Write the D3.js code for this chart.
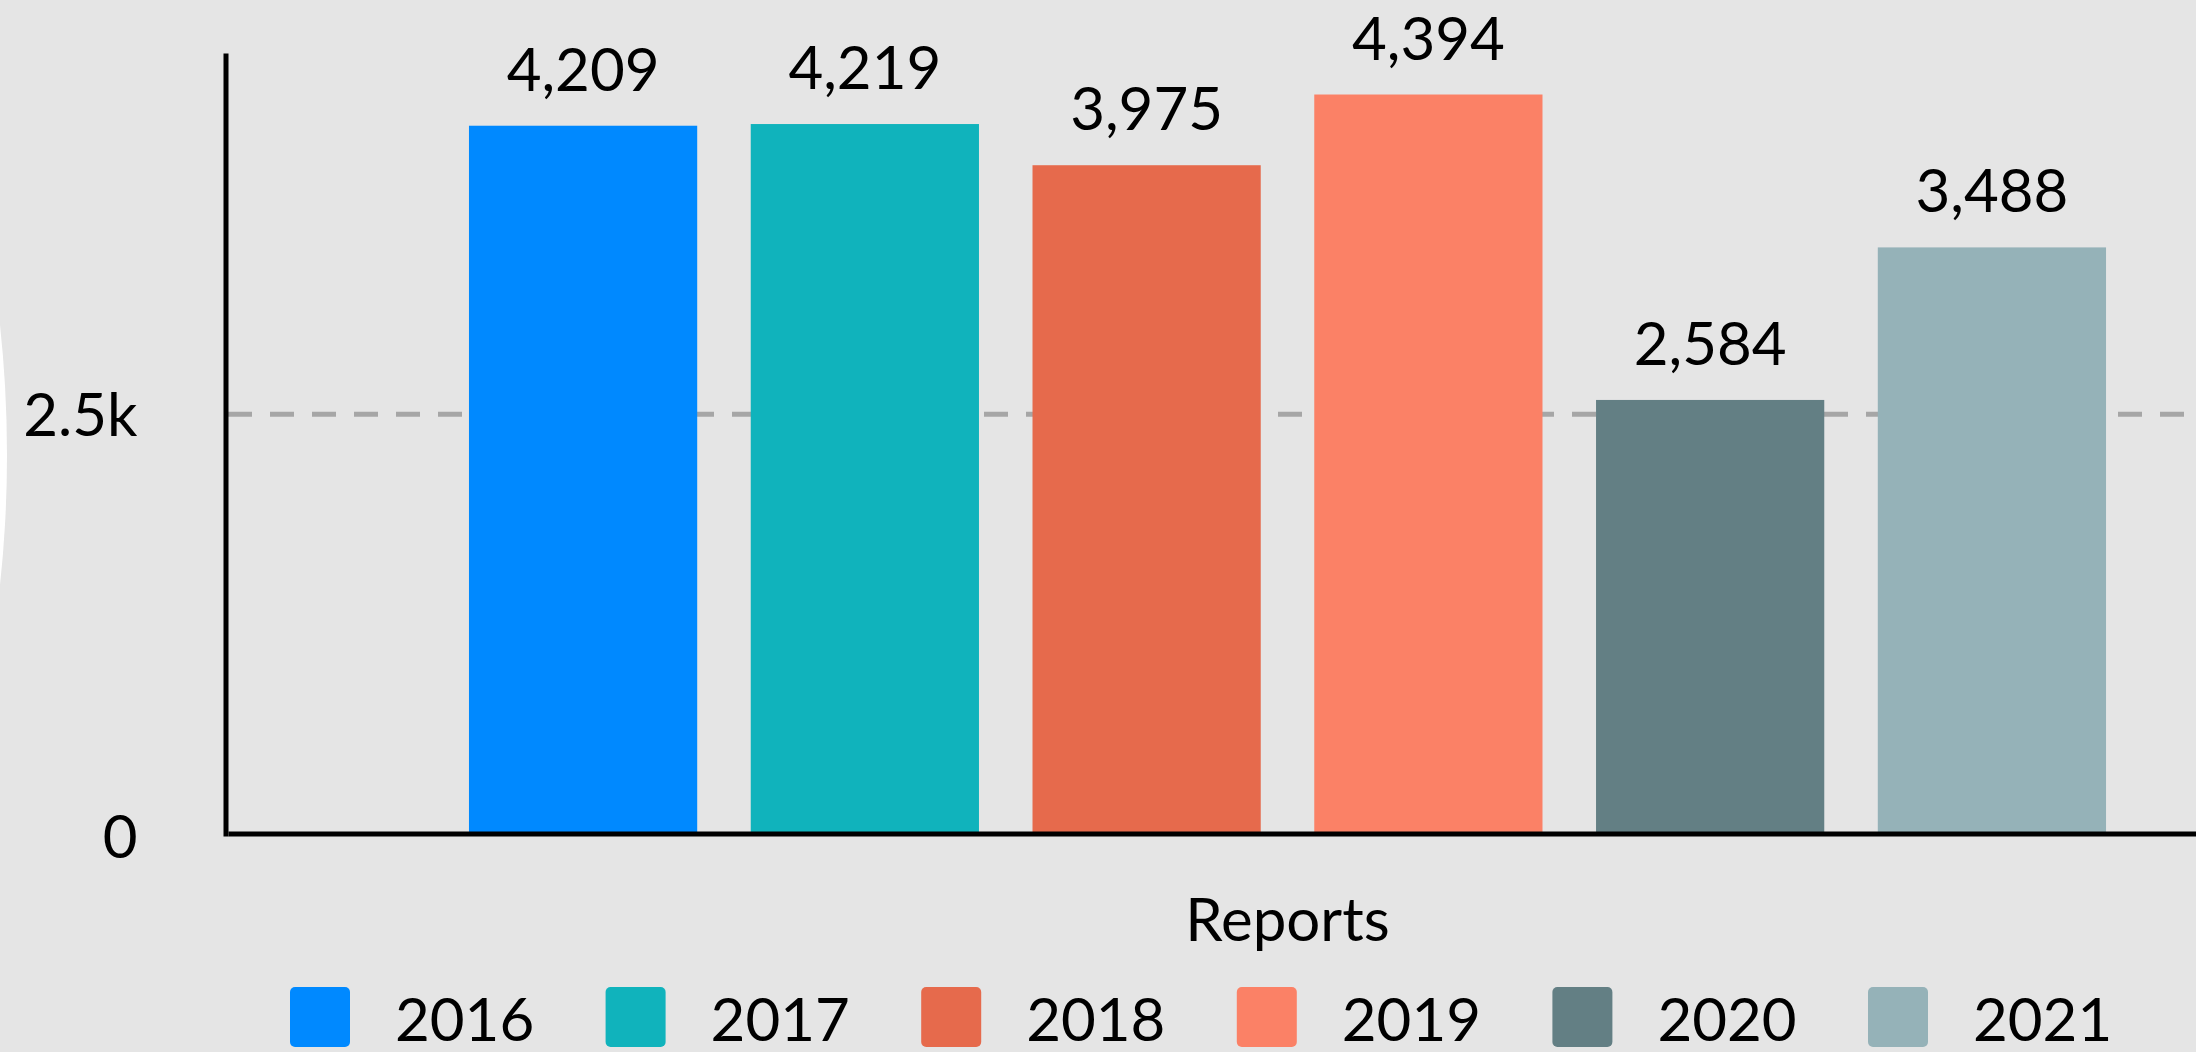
<!DOCTYPE html>
<html>
<head>
<meta charset="utf-8">
<script src="https://cdn.jsdelivr.net/npm/d3@7"></script>
<style>
  html, body { margin: 0; padding: 0; background: #e5e5e5; overflow: hidden; }
  svg { display: block; font-family: Lato, "Open Sans", sans-serif; }
</style>
</head>
<body>
<svg id="chart" width="2196" height="1052"></svg>
<script>
// data
const categories = ["Reports"];
const years = ["2016", "2017", "2018", "2019", "2020", "2021"];
const reports = [4209, 4219, 3975, 4394, 2584, 3488];
const yTicks = [0, 2500];
const yTickLabels = ["0", "2.5k"];
const yearColors = ["#0089ff", "#10b3bc", "#e66a4c", "#fb8166", "#637f84", "#95b2b8"];

const svg = d3.select("#chart");
const width = +svg.attr("width");
const height = +svg.attr("height");

// background
svg.append("rect").attr("width", width).attr("height", height).attr("fill", "#e5e5e5");
// white sliver on the left edge of the picture
svg.append("ellipse")
    .attr("cx", -400).attr("cy", 455)
    .attr("rx", 407).attr("ry", 704)
    .attr("fill", "#ffffff");

const plotLeft = 228;
const plotRight = 2347; // plot runs past the window on the right
const yMax = 4640;

const y = d3.scaleLinear().domain([0, yMax]).range([836, 53]);

// one category, bars grouped inside it
const x0 = d3.scaleBand().domain(categories).range([plotLeft, plotRight]).paddingOuter(0.1472);
const x1 = d3.scaleBand().domain(years).range([0, x0.bandwidth()]).paddingInner(0.19);
const color = d3.scaleOrdinal().domain(years).range(yearColors);

// dashed gridline at 2.5k
svg.append("g")
    .selectAll("line")
    .data(yTicks.filter(d => d > 0))
    .join("line")
    .attr("x1", plotLeft)
    .attr("x2", width)
    .attr("y1", d => y(d))
    .attr("y2", d => y(d))
    .attr("stroke", "#a6a6a6")
    .attr("stroke-width", 5)
    .attr("stroke-dasharray", "24,18");

const rows = years.map((yr, i) => ({ year: yr, value: reports[i] }));

const group = svg.append("g")
    .attr("transform", `translate(${x0("Reports")},0)`);

group.selectAll("rect")
    .data(rows)
    .join("rect")
    .attr("x", d => x1(d.year))
    .attr("y", d => y(d.value))
    .attr("width", x1.bandwidth())
    .attr("height", d => y(0) - y(d.value))
    .attr("fill", d => color(d.year));

// value labels above bars
group.selectAll("text")
    .data(rows)
    .join("text")
    .attr("x", d => x1(d.year) + x1.bandwidth() / 2)
    .attr("y", d => y(d.value) - 35)
    .attr("text-anchor", "middle")
    .attr("font-size", 60)
    .attr("fill", "#000")
    .text(d => d3.format(",")(d.value));

// y axis
const yAxis = svg.append("g")
    .attr("transform", "translate(225.5,0)")
    .call(d3.axisLeft(y)
        .tickValues(yTicks)
        .tickFormat((d, i) => yTickLabels[i])
        .tickSize(0)
        .tickSizeOuter(0)
        .tickPadding(88));
yAxis.select(".domain").attr("stroke", "#000").attr("stroke-width", 5);
yAxis.selectAll("text")
    .attr("font-size", 60)
    .attr("font-family", "Lato, sans-serif")
    .attr("fill", "#000")
    .attr("dy", "0.36em");

// x axis, category name sits below
const xAxis = svg.append("g")
    .attr("transform", "translate(0,833.5)")
    .call(d3.axisBottom(x0).tickSize(0).tickSizeOuter(0).tickPadding(65));
xAxis.select(".domain").attr("stroke", "#000").attr("stroke-width", 5);
xAxis.selectAll("text")
    .attr("font-size", 60)
    .attr("font-family", "Lato, sans-serif")
    .attr("fill", "#000");

// legend along the bottom
const legendX = d3.scalePoint().domain(years).range([290, 1868]);
const legend = svg.append("g")
    .selectAll("g")
    .data(years)
    .join("g")
    .attr("transform", d => `translate(${legendX(d)},987)`);

legend.append("rect")
    .attr("width", 60)
    .attr("height", 60)
    .attr("rx", 5)
    .attr("fill", d => color(d));

legend.append("text")
    .attr("x", 105)
    .attr("y", 54)
    .attr("font-size", 60)
    .attr("fill", "#000")
    .text(d => d);
</script>
</body>
</html>
